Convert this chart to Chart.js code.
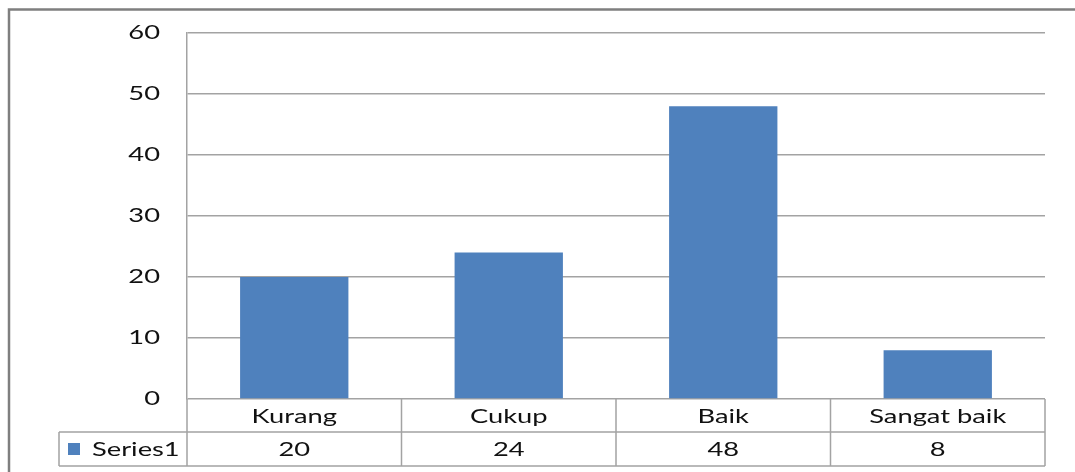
<!DOCTYPE html>
<html>
  <head>
    <title>Series1</title>
    <script src="https://cdn.jsdelivr.net/npm/chart.js/dist/chart.umd.min.js"></script>
    <style>
      body { margin: 0; background: #ffffff; }
      canvas { display: block; }
    </style>
  </head>
  <body>
    <canvas id="barChart" width="1075" height="472"></canvas>
    <script>
      // data
      const categories = ['Kurang', 'Cukup', 'Baik', 'Sangat baik'];
      const series1 = [20, 24, 48, 8];
      const seriesName = 'Series1';
      const yTicks = [0, 10, 20, 30, 40, 50, 60];

      const barColor = '#4F81BD';
      const lineColor = '#a3a3a3';
      const textColor = '#111111';
      const stretch = 1.4; // the picture's text is wide, stretch it sideways

      function wideText(ctx, text, x, y, align) {
        ctx.save();
        ctx.translate(x, y);
        ctx.scale(stretch, 1);
        ctx.textAlign = align;
        ctx.textBaseline = 'middle';
        ctx.fillText(text, 0, 0);
        ctx.restore();
      }

      const frameAndTable = {
        id: 'frameAndTable',
        beforeDraw(chart) {
          const ctx = chart.ctx;
          ctx.save();
          ctx.strokeStyle = '#7f7f7f';
          ctx.lineWidth = 2.5;
          ctx.strokeRect(9, 9.5, chart.width + 10, chart.height + 10);
          ctx.restore();
        },
        afterDraw(chart) {
          const ctx = chart.ctx;
          const x = chart.scales.x;
          const y = chart.scales.y;
          const area = chart.chartArea;
          const top = area.bottom;
          const mid = top + 33;
          const bottom = mid + 34;
          const keyLeft = 59;

          ctx.save();
          ctx.font = '19.5px Lato';
          ctx.fillStyle = textColor;

          // y tick labels
          y.ticks.forEach(t => {
            wideText(ctx, String(t.value), area.left - 27, y.getPixelForValue(t.value), 'right');
          });

          // table lines
          ctx.strokeStyle = lineColor;
          ctx.lineWidth = 1.5;
          ctx.beginPath();
          ctx.moveTo(keyLeft, mid); ctx.lineTo(area.right, mid);
          ctx.moveTo(keyLeft, bottom); ctx.lineTo(area.right, bottom);
          ctx.moveTo(keyLeft, mid); ctx.lineTo(keyLeft, bottom);
          const half = (x.getPixelForValue(1) - x.getPixelForValue(0)) / 2;
          for (let i = 0; i <= categories.length; i++) {
            const px = i < categories.length ? x.getPixelForValue(i) - half : x.getPixelForValue(i - 1) + half;
            ctx.moveTo(px, top); ctx.lineTo(px, bottom);
          }
          ctx.stroke();

          // table text
          categories.forEach((c, i) => {
            const cx = x.getPixelForValue(i);
            wideText(ctx, c, cx, (top + mid) / 2 + 1, 'center');
            wideText(ctx, String(series1[i]), cx, (mid + bottom) / 2 + 1, 'center');
          });

          // legend key
          ctx.fillStyle = barColor;
          ctx.fillRect(keyLeft + 9, mid + 11, 12, 12);
          ctx.fillStyle = textColor;
          wideText(ctx, seriesName, keyLeft + 33, (mid + bottom) / 2 + 1, 'left');
          ctx.restore();
        }
      };

      new Chart(document.getElementById('barChart'), {
        type: 'bar',
        data: {
          labels: categories,
          datasets: [{
            label: seriesName,
            data: series1,
            backgroundColor: barColor,
            borderWidth: 0,
            categoryPercentage: 1,
            barPercentage: 0.505
          }]
        },
        options: {
          responsive: false,
          animation: false,
          layout: { padding: { top: 33, right: 30, bottom: 73, left: 0 } },
          plugins: {
            legend: { display: false },
            tooltip: { enabled: false }
          },
          scales: {
            x: {
              display: false
            },
            y: {
              min: 0,
              max: 60,
              afterBuildTicks: (scale) => { scale.ticks = yTicks.map(v => ({ value: v })); },
              afterFit: (scale) => { scale.width = 187; },
              ticks: { display: false },
              grid: { color: lineColor, lineWidth: 1.5, drawTicks: false },
              border: { color: lineColor, width: 1.5 }
            }
          }
        },
        plugins: [frameAndTable]
      });
    </script>
  </body>
</html>
